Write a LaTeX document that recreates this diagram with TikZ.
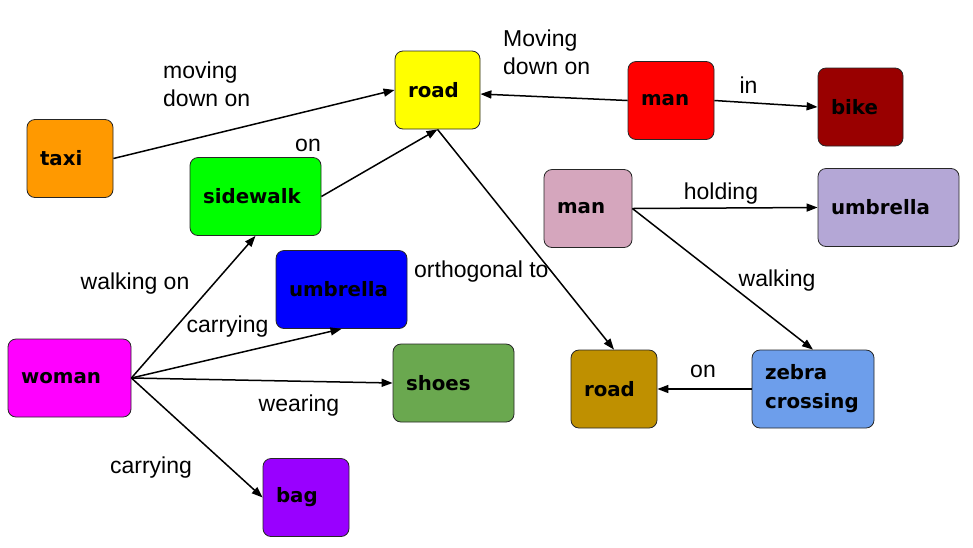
\documentclass[tikz,border=0pt]{standalone}
\usepackage{fontspec}
\setmainfont{Liberation Sans}
\newfontfamily\nodefont{DejaVu Sans}
\usetikzlibrary{arrows.meta,calc}
\definecolor{cTaxi}{HTML}{FF9900}
\definecolor{cRoadY}{HTML}{FFFF00}
\definecolor{cManR}{HTML}{FF0000}
\definecolor{cBike}{HTML}{990000}
\definecolor{cSide}{HTML}{00FF00}
\definecolor{cManP}{HTML}{D5A6BD}
\definecolor{cUmbL}{HTML}{B4A7D6}
\definecolor{cUmbB}{HTML}{0000FF}
\definecolor{cWoman}{HTML}{FF00FF}
\definecolor{cShoes}{HTML}{6AA84F}
\definecolor{cRoadG}{HTML}{BF9000}
\definecolor{cZebra}{HTML}{6D9EEB}
\definecolor{cBag}{HTML}{9900FF}
\begin{document}
\begin{tikzpicture}[x=1pt,y=-1pt,
  cbox/.style={draw=black!85, line width=0.8pt, rounded corners=8pt, align=left,
    inner xsep=13pt, inner ysep=0pt, minimum height=78pt,
    font=\nodefont\bfseries\fontsize{19.8}{29}\selectfont, text=black},
  lbl/.style={font=\fontsize{23}{28}\selectfont, inner sep=0pt, align=left},
  arr/.style={-{Triangle[length=11pt,width=8pt]}, line width=1.5pt}]
\fill[white] (0,0) rectangle (973,547);
\useasboundingbox (0,0) rectangle (973,547);

% nodes
\node[cbox, fill=cTaxi,  text width=60pt]  (taxi)  at (70,158.5)  {taxi};
\node[cbox, fill=cRoadY, text width=59pt]  (roadY) at (437.5,90)  {road};
\node[cbox, fill=cManR,  text width=60pt]  (manR)  at (671,100.5) {man};
\node[cbox, fill=cBike,  text width=59pt]  (bike)  at (860.5,107) {bike};
\node[cbox, fill=cSide,  text width=105pt] (side)  at (255.5,196.5) {sidewalk};
\node[cbox, fill=cManP,  text width=62pt]  (manP)  at (588,208.5) {man};
\node[cbox, fill=cUmbL,  text width=115pt] (umbL)  at (888.5,207.5) {umbrella};
\node[cbox, fill=cUmbB,  text width=105pt] (umbB)  at (341.5,289.5) {umbrella};
\node[cbox, fill=cWoman, text width=97pt]  (woman) at (69.5,378)  {woman};
\node[cbox, fill=cShoes, text width=95pt]  (shoes) at (453.5,383) {shoes};
\node[cbox, fill=cRoadG, text width=60pt]  (roadG) at (614,389)   {road};
\node[cbox, fill=cZebra, text width=96pt]  (zebra) at (813,389)   {\rule{0pt}{0pt}\raisebox{-3pt}{zebra}\\\raisebox{-3pt}{crossing}};
\node[cbox, fill=cBag,   text width=60pt]  (bag)   at (306,497.5) {bag};

% connectors
\draw[arr] (taxi.east) -- (roadY.west);
\draw[arr] (side.east) -- (roadY.south);
\draw[arr] (manR.west) -- ([yshift=-4pt]roadY.east);
\draw[arr] (manR.east) -- (bike.west);
\draw[arr] (roadY.south) -- (roadG.north);
\draw[arr] (manP.east) -- (umbL.west);
\draw[arr] (manP.east) -- (zebra.north);
\draw[arr] (zebra.west) -- (roadG.east);
\draw[arr] (woman.east) -- (side.south);
\draw[arr] (woman.east) -- (umbB.south);
\draw[arr] (woman.east) -- (shoes.west);
\draw[arr] (woman.east) -- (bag.west);

% labels
\node[lbl, anchor=west] (l1)  at (163,84)  {moving\\down on};
\node[lbl, anchor=west] (l2)  at (503,52)  {Moving\\down on};
\node[lbl] (l3)  at (308,145) {on};
\node[lbl] (l4)  at (748.5,85) {in};
\node[lbl] (l5)  at (721,194) {holding};
\node[lbl] (l6)  at (777,281) {walking};
\node[lbl, anchor=west] (l7) at (414,272) {orthogonal to};
\node[lbl] (l8)  at (135,284) {walking on};
\node[lbl] (l9)  at (227.5,327) {carrying};
\node[lbl] (l10) at (299,406) {wearing};
\node[lbl] (l11) at (151,468) {carrying};
\node[lbl] (l12) at (703,371) {on};
\end{tikzpicture}
\end{document}
